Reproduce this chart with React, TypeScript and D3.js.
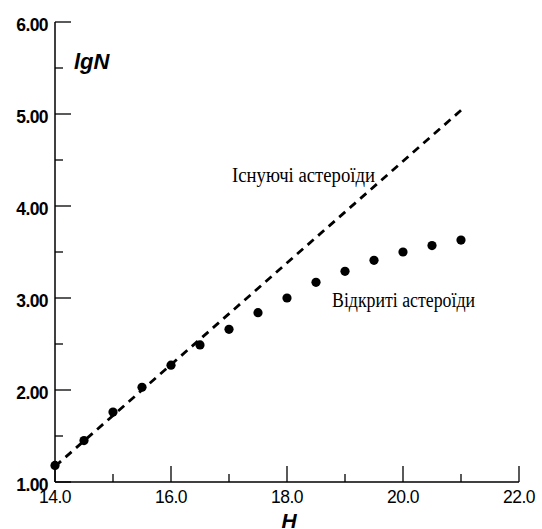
import React from "react";
import * as d3 from "d3";

const magnitudes = [14, 14.5, 15, 15.5, 16, 16.5, 17, 17.5, 18, 18.5, 19, 19.5, 20, 20.5, 21];
const discovered = [1.18, 1.45, 1.76, 2.03, 2.27, 2.49, 2.66, 2.84, 3.0, 3.17, 3.29, 3.41, 3.5, 3.57, 3.63];
const existingH = [14, 21];
const existingLgN = [1.17, 5.04];
const xTicks = [14, 16, 18, 20, 22];
const xMinor = [15, 17, 19, 21];
const yTicks = [1, 2, 3, 4, 5, 6];
const yMinor = [1.5, 2.5, 3.5, 4.5, 5.5];
const existingLabel = "Існуючі астероїди";
const discoveredLabel = "Відкриті астероїди";

const W = 542;
const H = 529;

export default function App() {
  const x = d3.scaleLinear().domain([14, 22]).range([55, 519]);
  const y = d3.scaleLinear().domain([1, 6]).range([482, 22]);
  const line = d3
    .line<number>()
    .x((_, i) => x(existingH[i]))
    .y((d) => y(d));
  const sans = "'Liberation Sans', Arial, sans-serif";
  const serif = "'Liberation Serif', 'Times New Roman', serif";
  return (
    <svg
      width={W}
      height={H}
      style={{ position: "absolute", left: 0, top: 0, background: "#fff" }}
    >
      <rect width={W} height={H} fill="#fff" />
      <line x1={x(14)} x2={x(14)} y1={y(6)} y2={y(1)} stroke="#000" strokeWidth={1.5} />
      <line x1={x(14)} x2={x(22)} y1={y(1)} y2={y(1)} stroke="#000" strokeWidth={1.5} />
      {yTicks.map((t) => (
        <g key={"y" + t}>
          <line x1={x(14)} x2={x(14) + 16} y1={y(t)} y2={y(t)} stroke="#000" strokeWidth={1.3} />
          <text
            x={48}
            y={y(t) + 2.5}
            textAnchor="end"
            dominantBaseline="central"
            fontFamily={sans}
            fontWeight="bold"
            fontSize={17.5}
            letterSpacing={-0.6}
          >
            {t.toFixed(2)}
          </text>
        </g>
      ))}
      {yMinor.map((t) => (
        <line key={"ym" + t} x1={x(14)} x2={x(14) + 8} y1={y(t)} y2={y(t)} stroke="#000" strokeWidth={1.3} />
      ))}
      {xTicks.map((t) => (
        <g key={"x" + t}>
          <line x1={x(t)} x2={x(t)} y1={y(1)} y2={y(1) - 16} stroke="#000" strokeWidth={1.3} />
          <text
            x={x(t)}
            y={503}
            textAnchor="middle"
            fontFamily={sans}
            fontSize={17.5}
            letterSpacing={-0.5}
          >
            {t.toFixed(1)}
          </text>
        </g>
      ))}
      {xMinor.map((t) => (
        <line key={"xm" + t} x1={x(t)} x2={x(t)} y1={y(1)} y2={y(1) - 8} stroke="#000" strokeWidth={1.3} />
      ))}
      <text x={74} y={69} fontFamily={sans} fontWeight="bold" fontStyle="italic" fontSize={22}>
        lgN
      </text>
      <text x={289} y={528} textAnchor="middle" fontFamily={sans} fontWeight="bold" fontStyle="italic" fontSize={21}>
        H
      </text>
      <path
        d={line(existingLgN) || ""}
        fill="none"
        stroke="#000"
        strokeWidth={2.8}
        strokeDasharray="8,6"
      />
      {discovered.map((v, i) => (
        <circle key={"p" + i} cx={x(magnitudes[i])} cy={y(v)} r={4.6} fill="#000" />
      ))}
      <text
        x={232}
        y={182}
        fontFamily={serif}
        fontSize={20}
        textLength={143}
        lengthAdjust="spacingAndGlyphs"
      >
        {existingLabel}
      </text>
      <text
        x={332}
        y={307}
        fontFamily={serif}
        fontSize={20}
        textLength={143}
        lengthAdjust="spacingAndGlyphs"
      >
        {discoveredLabel}
      </text>
    </svg>
  );
}
